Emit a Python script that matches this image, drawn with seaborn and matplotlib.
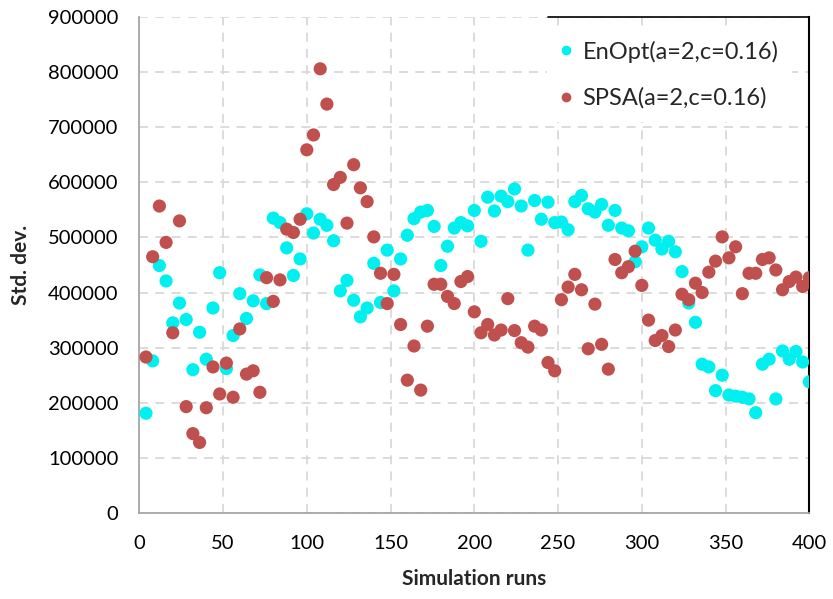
import matplotlib
matplotlib.use("Agg")
import matplotlib.pyplot as plt
from matplotlib.lines import Line2D
import numpy as np
import pandas as pd
import seaborn as sns

# Simulation run index (every 4th run)
runs = list(range(4, 401, 4))

enopt_std = [
    181000, 276000, 449000, 421000, 345000, 381000, 351000, 260000, 328000, 279000,
    372000, 436000, 262000, 322000, 398000, 353000, 385000, 432000, 380000, 535000,
    527000, 481000, 431000, 461000, 543000, 508000, 533000, 522000, 494000, 403000,
    422000, 386000, 356000, 372000, 453000, 382000, 477000, 403000, 461000, 504000,
    534000, 546000, 549000, 520000, 449000, 484000, 517000, 527000, 521000, 549000,
    493000, 573000, 548000, 575000, 565000, 588000, 557000, 477000, 567000, 533000,
    564000, 527000, 528000, 514000, 565000, 576000, 552000, 546000, 560000, 522000,
    549000, 517000, 512000, 456000, 483000, 517000, 495000, 479000, 493000, 474000,
    438000, 381000, 346000, 270000, 265000, 222000, 250000, 214000, 212000, 210000,
    207000, 182000, 270000, 279000, 207000, 294000, 279000, 293000, 274000, 238000,
]

spsa_std = [
    283000, 465000, 557000, 491000, 327000, 530000, 193000, 144000, 128000, 191000,
    265000, 216000, 272000, 210000, 334000, 252000, 258000, 219000, 427000, 384000,
    423000, 515000, 509000, 533000, 659000, 686000, 806000, 742000, 596000, 609000,
    526000, 632000, 590000, 565000, 501000, 435000, 380000, 433000, 342000, 241000,
    303000, 223000, 339000, 415000, 415000, 393000, 380000, 420000, 429000, 365000,
    327000, 342000, 323000, 332000, 389000, 331000, 309000, 301000, 339000, 332000,
    273000, 258000, 387000, 410000, 433000, 405000, 298000, 379000, 306000, 261000,
    460000, 436000, 447000, 475000, 413000, 350000, 313000, 322000, 302000, 332000,
    397000, 387000, 417000, 400000, 437000, 457000, 501000, 463000, 483000, 398000,
    435000, 435000, 460000, 463000, 441000, 405000, 420000, 428000, 411000, 427000,
]

series_names = ["EnOpt(a=2,c=0.16)", "SPSA(a=2,c=0.16)"]
series_colors = ["#00F0F0", "#C0504D"]

x_ticks = [0, 50, 100, 150, 200, 250, 300, 350, 400]
y_ticks = [0, 100000, 200000, 300000, 400000, 500000, 600000, 700000, 800000, 900000]

df = pd.DataFrame({
    "run": runs + runs,
    "std": enopt_std + spsa_std,
    "method": [series_names[0]] * len(runs) + [series_names[1]] * len(runs),
})

sns.set_theme(style="white")
plt.rcParams["font.family"] = ["Lato", "DejaVu Sans"]

fig = plt.figure(figsize=(8.33, 5.99), dpi=100)
ax = fig.add_axes([0.1672, 0.1436, 0.9716 - 0.1672, 0.9716 - 0.1436])

sns.scatterplot(
    data=df, x="run", y="std", hue="method",
    palette=dict(zip(series_names, series_colors)),
    s=90, linewidth=0, legend=False, ax=ax, zorder=3,
)

ax.set_xlim(0, 400)
ax.set_ylim(0, 900000)
ax.set_xticks(x_ticks)
ax.set_yticks(y_ticks)
ax.set_xticklabels([str(v) for v in x_ticks])
ax.set_yticklabels([str(v) for v in y_ticks])
ax.tick_params(axis="both", length=0, labelsize=14.5, colors="#000000")
ax.tick_params(axis="y", pad=15)
ax.tick_params(axis="x", pad=16)

ax.grid(True, color="#D9D9D9", linestyle=(0, (5, 4)), linewidth=1.3, zorder=0)
ax.set_axisbelow(True)

for side in ["left", "bottom"]:
    ax.spines[side].set_color("#A6A6A6")
    ax.spines[side].set_linewidth(1.3)
ax.spines["top"].set_visible(False)
ax.spines["right"].set_color("#000000")
ax.spines["right"].set_linewidth(1.5)

ax.set_xlabel("Simulation runs", fontsize=15, fontweight="bold", labelpad=12)
ax.set_ylabel("Std. dev.", fontsize=15, fontweight="bold", labelpad=12)

handles = [
    Line2D([0], [0], marker="o", linestyle="", markersize=7,
           markerfacecolor=c, markeredgewidth=0)
    for c in series_colors
]
leg = ax.legend(
    handles, series_names, loc="upper left",
    bbox_to_anchor=(0.657, 0.952), bbox_transform=fig.transFigure,
    frameon=True, fancybox=False, fontsize=17, handlelength=0.6,
    handletextpad=0.4, labelspacing=1.05, borderpad=0.5, borderaxespad=0,
)
leg.get_frame().set_facecolor("white")
leg.get_frame().set_edgecolor("white")
leg.get_frame().set_alpha(1.0)
leg.set_zorder(5)

# dark top edge of the legend box, joining the right frame line
ax.plot([0.61, 1.0], [1.0, 1.0], transform=ax.transAxes, color="#000000",
        linewidth=1.2, clip_on=False, zorder=6)

fig.savefig("out.png", dpi=100)
